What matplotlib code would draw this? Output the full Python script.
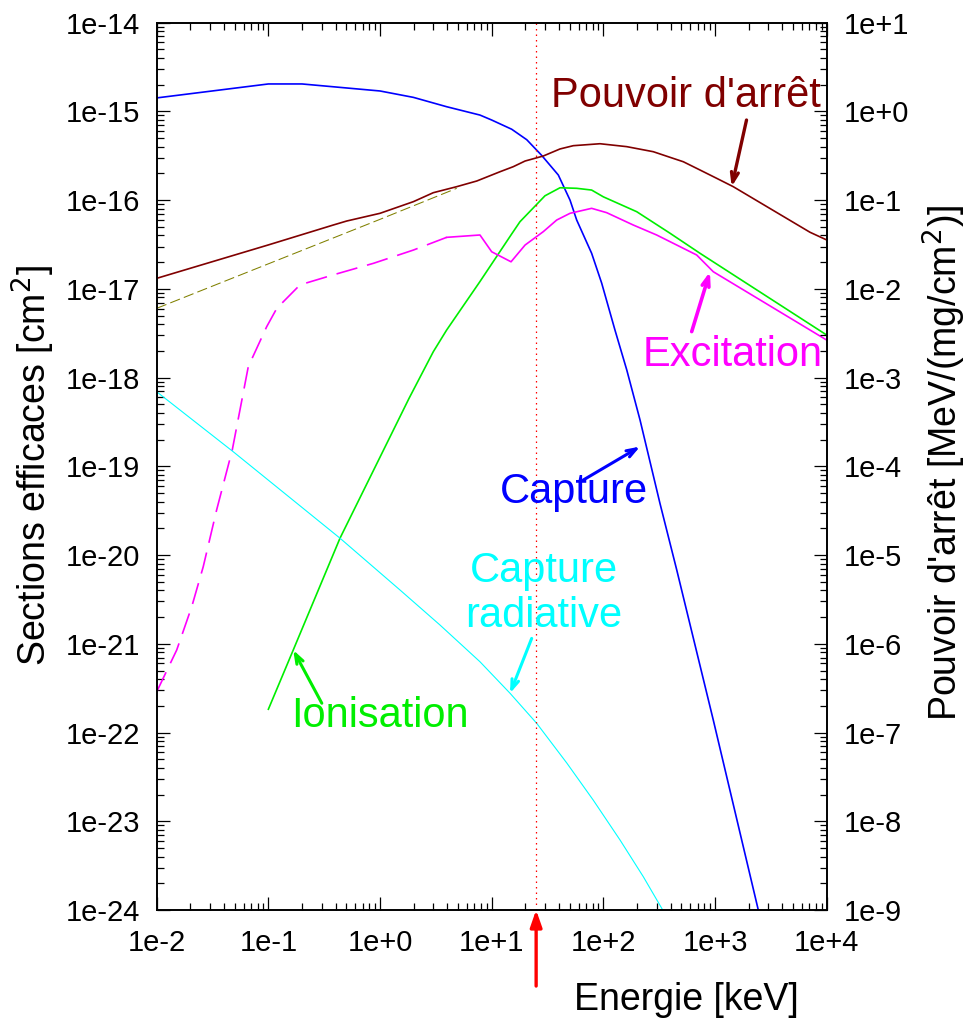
import matplotlib
matplotlib.use("Agg")
import matplotlib.pyplot as plt
from matplotlib.ticker import LogLocator, FuncFormatter, NullFormatter
import numpy as np

plt.rcParams['font.family'] = ['Liberation Sans', 'DejaVu Sans']

# capture (blue), left axis
e_capture = [0.01, 0.1, 0.2, 1.0, 1.99, 3.95, 7.85, 10, 15.1, 20.6, 28.0, 39.5,
             50.3, 57.7, 78.5, 96.6, 127, 162, 213, 321, 454, 965, 2440]
s_capture = [1.42e-15, 2.04e-15, 2.04e-15, 1.70e-15, 1.44e-15, 1.13e-15, 9.1e-16,
             8.0e-16, 6.3e-16, 4.8e-16, 3.2e-16, 1.92e-16, 1.0e-16, 5.97e-17,
             2.52e-17, 1.16e-17, 3.44e-18, 1.22e-18, 3.33e-19, 3.84e-20, 6.8e-21,
             1.38e-22, 1.0e-24]

# ionisation (green)
e_ion = [0.1, 0.167, 0.438, 1.82, 3.0, 3.95, 7.85, 15.1, 17.9, 30.0, 40.9, 57.7,
         78.5, 100, 199, 395, 733, 10000]
s_ion = [1.83e-22, 8.51e-22, 1.55e-20, 5.85e-19, 1.96e-18, 3.44e-18, 1.21e-17,
         4.16e-17, 5.71e-17, 1.12e-16, 1.38e-16, 1.36e-16, 1.30e-16, 1.09e-16,
         7.41e-17, 4.24e-17, 2.52e-17, 3.02e-18]

# excitation (magenta): dashed low-energy part, solid part
e_exc_lo = [0.01, 0.0151, 0.0206, 0.0261, 0.0344, 0.0475, 0.0661, 0.0966, 0.119,
            0.192, 0.382, 0.871, 1.99, 3.95]
s_exc_lo = [2.88e-22, 8.5e-22, 2.62e-21, 7.39e-21, 3.22e-20, 1.53e-19, 1.33e-18,
            3.75e-18, 6.04e-18, 1.11e-17, 1.44e-17, 1.94e-17, 2.74e-17, 3.81e-17]
e_exc = [3.95, 7.85, 10, 14.9, 19.9, 29.0, 38.2, 50.3, 78.5, 107, 185, 300, 685,
         965, 10000]
s_exc = [3.81e-17, 4.05e-17, 2.62e-17, 2.02e-17, 3.12e-17, 4.42e-17, 5.97e-17,
         7.11e-17, 8.09e-17, 7.23e-17, 5.25e-17, 4.05e-17, 2.41e-17, 1.56e-17,
         2.65e-18]

# radiative capture (cyan)
e_rad = [0.01, 0.0485, 0.438, 1.51, 3.44, 7.85, 14.6, 25.3, 47.0, 81.2, 141, 228, 340]
s_rad = [6.93e-19, 1.46e-19, 1.55e-20, 4.04e-21, 1.63e-21, 6.28e-22, 2.77e-22,
         1.27e-22, 4.54e-23, 1.73e-23, 6.15e-24, 2.37e-24, 1.0e-24]

# stopping power (right axis, MeV/(mg/cm2))
e_stop = [0.01, 0.1, 0.382, 0.503, 1.0, 1.99, 3.0, 4.86, 7.35, 11.9, 15.6, 19.9,
          29.0, 40.9, 53.8, 93.3, 162, 280, 395, 520, 733, 1035, 1456, 7080, 10000]
s_stop = [0.01315, 0.0313, 0.0525, 0.0582, 0.0711, 0.0962, 0.1214, 0.1419, 0.1644,
          0.2094, 0.2384, 0.2761, 0.3147, 0.3776, 0.4111, 0.4325, 0.4009, 0.3516,
          0.3041, 0.2710, 0.2188, 0.1762, 0.1419, 0.0435, 0.0356]

# low-energy electronic stopping (olive dashed)
e_elec = [0.01, 1.0, 4.86]
s_elec = [0.00604, 0.0608, 0.136]

e_beam = 25.0

fig = plt.figure(figsize=(9.66, 10.18), dpi=100)
ax = fig.add_axes([156.7 / 966, 1 - 910 / 1018, 670 / 966, 887.3 / 1018])
ax2 = ax.twinx()

ax.set_xscale('log')
ax.set_yscale('log')
ax2.set_yscale('log')
ax.set_xlim(1e-2, 1e4)
ax.set_ylim(1e-24, 1e-14)
ax2.set_ylim(1e-9, 1e1)

ax.plot(e_capture, s_capture, color='#0000ff', lw=1.2)
ax.plot(e_ion, s_ion, color='#00ee00', lw=1.2)
ax.plot(e_exc_lo, s_exc_lo, color='#ff00ff', lw=1.2, dashes=(13, 6))
ax.plot(e_exc, s_exc, color='#ff00ff', lw=1.2)
ax.plot(e_rad, s_rad, color='#00ffff', lw=0.8)
ax.axvline(e_beam, color='#ff0000', lw=0.9, dashes=(1.2, 3.2))
ax2.plot(e_stop, s_stop, color='#800000', lw=1.2)
ax2.plot(e_elec, s_elec, color='#808000', lw=0.75, dashes=(10, 4))

fmt = FuncFormatter(lambda v, p: "1e%+d" % int(round(np.log10(v))))
for a in (ax, ax2):
    for s in a.spines.values():
        s.set_linewidth(1.2)
ax.xaxis.set_major_locator(LogLocator(base=10, numticks=20))
ax.xaxis.set_minor_locator(LogLocator(base=10, subs=np.arange(2, 10), numticks=20))
ax.xaxis.set_major_formatter(fmt)
ax.xaxis.set_minor_formatter(NullFormatter())
for a in (ax, ax2):
    a.yaxis.set_major_locator(LogLocator(base=10, numticks=20))
    a.yaxis.set_minor_locator(LogLocator(base=10, subs=np.arange(2, 10), numticks=20))
    a.yaxis.set_major_formatter(fmt)
    a.yaxis.set_minor_formatter(NullFormatter())

ax.tick_params(axis='x', which='both', direction='in', top=True, labelsize=21, pad=14)
ax.tick_params(axis='y', which='both', direction='in', right=False, labelsize=21, pad=12)
ax2.tick_params(axis='y', which='both', direction='in', labelsize=21, pad=12)
for a in (ax, ax2):
    a.tick_params(which='major', length=9.4, width=0.9)
    a.tick_params(which='minor', length=5, width=0.9)

# labels
fig.text(33 / 966, 1 - 466 / 1018, "Sections efficaces [cm$^2$]", rotation=90,
         ha='center', va='center', fontsize=27)
fig.text(944 / 966, 1 - 463 / 1018, "Pouvoir d'arrêt [MeV/(mg/cm$^2$)]", rotation=90,
         ha='center', va='center', fontsize=27)
fig.text(686.7 / 966, 1 - 1010 / 1018, "Energie [keV]", ha='center', va='baseline',
         fontsize=27)

# annotations
arrow_head = '->,head_length=0.7,head_width=0.25'
ax.text(550, 1.13e-15, "Pouvoir d'arrêt", color='#800000', fontsize=30,
        ha='center', va='baseline')
ax.annotate('', xy=(1410, 1.42e-16), xytext=(1914, 8.0e-16),
            arrowprops=dict(arrowstyle=arrow_head, color='#800000', lw=2.4,
                            shrinkA=0, shrinkB=0))
ax.text(1440, 1.35e-18, "Excitation", color='#ff00ff', fontsize=30,
        ha='center', va='baseline')
ax.annotate('', xy=(901, 1.56e-17), xytext=(618, 3.30e-18),
            arrowprops=dict(arrowstyle=arrow_head, color='#ff00ff', lw=2.6,
                            shrinkA=0, shrinkB=0))
ax.text(54.6, 3.84e-20, "Capture", color='#0000ff', fontsize=30,
        ha='center', va='baseline')
ax.annotate('', xy=(213, 1.67e-19), xytext=(66.1, 7.02e-20),
            arrowprops=dict(arrowstyle=arrow_head, color='#0000ff', lw=2.2,
                            shrinkA=0, shrinkB=0))
ax.text(29.4, 5.01e-21, "Capture", color='#00ffff', fontsize=30,
        ha='center', va='baseline')
ax.text(29.4, 1.56e-21, "radiative", color='#00ffff', fontsize=30,
        ha='center', va='baseline')
ax.annotate('', xy=(14.6, 2.77e-22), xytext=(22.8, 1.15e-21),
            arrowprops=dict(arrowstyle=arrow_head, color='#00ffff', lw=2.2,
                            shrinkA=0, shrinkB=0))
ax.text(1.0, 1.16e-22, "Ionisation", color='#00ee00', fontsize=30,
        ha='center', va='baseline')
ax.annotate('', xy=(0.167, 8.51e-22), xytext=(0.301, 2.14e-22),
            arrowprops=dict(arrowstyle=arrow_head, color='#00ee00', lw=2.2,
                            shrinkA=0, shrinkB=0))

# beam energy arrow under the axis
ax.annotate('', xy=(e_beam, 0.0), xytext=(e_beam, -0.0857),
            xycoords=('data', 'axes fraction'), textcoords=('data', 'axes fraction'),
            annotation_clip=False,
            arrowprops=dict(arrowstyle='-|>,head_length=1.0,head_width=0.35',
                            color='#ff0000', lw=2.4, shrinkA=0, shrinkB=0))

fig.savefig('out.png', dpi=100)
